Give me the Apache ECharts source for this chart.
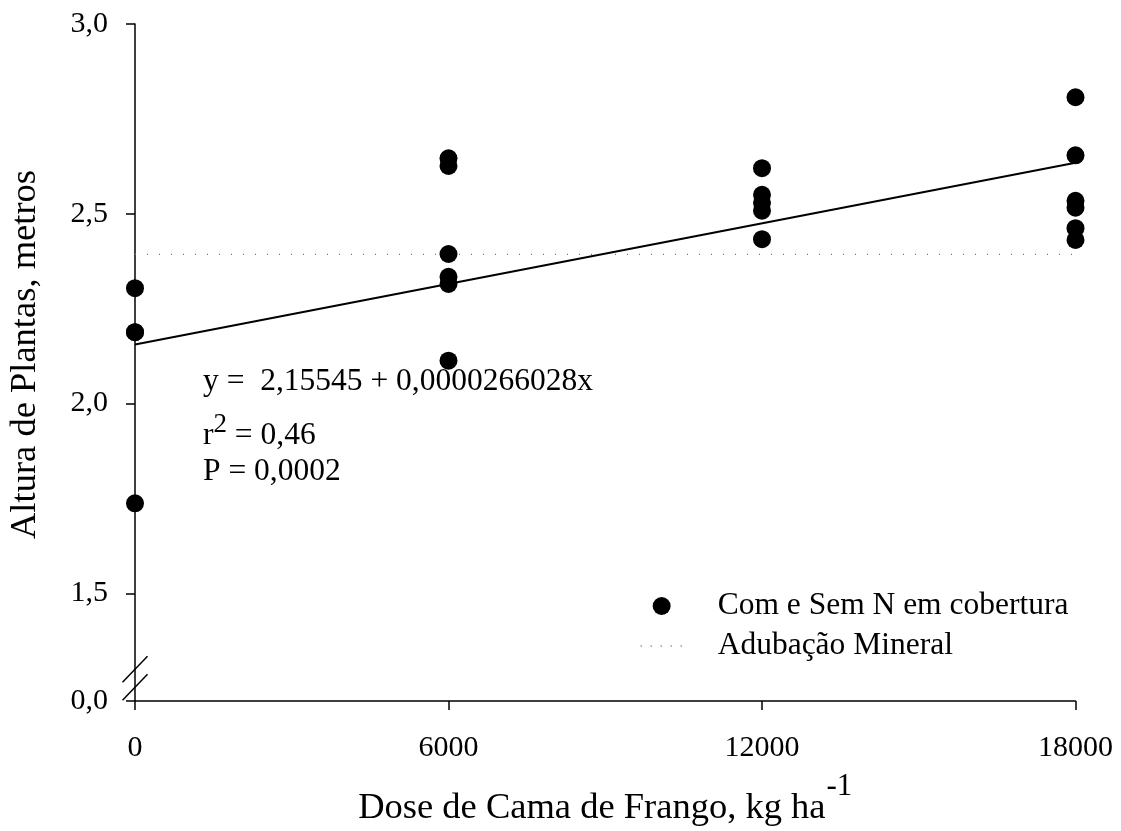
<!DOCTYPE html>
<html>
<head>
<meta charset="utf-8">
<script src="https://cdn.jsdelivr.net/npm/echarts@6/dist/echarts.min.js"></script>
<style>
html,body{margin:0;padding:0;background:#fff;}
#chart{width:1121px;height:831px;}
</style>
</head>
<body>
<div id="chart"></div>
<script>
// ---- data ----
const doses = [0, 6000, 12000, 18000];
const heightsDose0 = [2.304, 2.188, 2.188, 1.737];
const heightsDose6000 = [2.646, 2.626, 2.394, 2.334, 2.315, 2.113];
const heightsDose12000 = [2.620, 2.550, 2.529, 2.508, 2.433];
const heightsDose18000 = [2.807, 2.654, 2.534, 2.516, 2.462, 2.431];
const fitX = [0, 18000];
const fitY = [2.15545, 2.63430];
const mineralX = [0, 18000];
const mineralY = [2.393, 2.393];
const yAxisMin = 1.2162;          // position of the "0,0" label below the axis break
const yTickValues = [1.2162, 1.5, 2.0, 2.5, 3.0];
const yTickLabels = ['0,0', '1,5', '2,0', '2,5', '3,0'];
const breakValue = 1.30;
const seriesNames = ['Com e Sem N em cobertura', 'Adubação Mineral'];

const FONT = '"Liberation Serif", "DejaVu Serif", serif';

const groups = [heightsDose0, heightsDose6000, heightsDose12000, heightsDose18000];
const scatterData = [];
groups.forEach((g, i) => g.forEach(v => scatterData.push([doses[i], v])));
const fitData = fitX.map((x, i) => [x, fitY[i]]);
const mineralData = mineralX.map((x, i) => [x, mineralY[i]]);

const chart = echarts.init(document.getElementById('chart'), null, {renderer: 'canvas'});

const option = {
  backgroundColor: '#fff',
  animation: false,
  grid: {left: 135, right: 45.5, top: 24, bottom: 130, containLabel: false, outerBoundsMode: 'none'},
  xAxis: {
    type: 'value', min: 0, max: 18000, interval: 6000,
    splitLine: {show: false},
    axisLine: {lineStyle: {color: '#000', width: 1.5}},
    axisTick: {show: true, length: 9, lineStyle: {color: '#000', width: 1.5}},
    axisLabel: {color: '#000', fontFamily: FONT, fontSize: 30, margin: 32,
      formatter: v => String(v)},
    name: '{a|Dose de Cama de Frango, kg ha}{b|-1}',
    nameLocation: 'middle', nameGap: 70,
    nameTextStyle: {
      rich: {
        a: {fontFamily: FONT, fontSize: 36.5, color: '#000', verticalAlign: 'bottom'},
        b: {fontFamily: FONT, fontSize: 31, color: '#000', verticalAlign: 'bottom', padding: [0, 0, 25, 1]}
      }
    }
  },
  yAxis: {
    type: 'value', min: yAxisMin, max: 3.0,
    splitLine: {show: false},
    axisLine: {lineStyle: {color: '#000', width: 1.5}},
    axisTick: {show: true, length: 9, customValues: yTickValues, lineStyle: {color: '#000', width: 1.5}},
    axisLabel: {color: '#000', fontFamily: FONT, fontSize: 30, margin: 27,
      customValues: yTickValues,
      formatter: v => {
        const idx = yTickValues.findIndex(t => Math.abs(t - v) < 1e-6);
        return idx >= 0 ? yTickLabels[idx] : '';
      }},
    name: 'Altura de Plantas, metros',
    nameLocation: 'middle', nameGap: 91,
    nameTextStyle: {fontFamily: FONT, fontSize: 36.5, color: '#000', padding: [0, 0, 0, 16]}
  },
  legend: {
    orient: 'vertical', left: 640, top: 590, padding: 0,
    itemWidth: 42, itemHeight: 18, itemGap: 8,
    textStyle: {fontFamily: FONT, fontSize: 31.5, color: '#000', padding: [0, 0, 0, 30]},
    data: [
      {name: seriesNames[0], icon: 'circle', itemStyle: {color: '#000', opacity: 1}},
      {name: seriesNames[1], itemStyle: {color: 'rgba(0,0,0,0)', borderWidth: 0, opacity: 0},
       lineStyle: {color: '#666', width: 1.3, type: [1, 9]}}
    ]
  },
  series: [
    {
      name: 'fit', type: 'line', data: fitData, symbol: 'none',
      lineStyle: {color: '#000', width: 2}, silent: true, z: 2
    },
    {
      name: seriesNames[1], type: 'line', data: mineralData, symbol: 'none',
      itemStyle: {color: '#777'},
      lineStyle: {color: '#777', width: 1.2, type: [1, 11]}, z: 1
    },
    {
      name: seriesNames[0], type: 'scatter', data: scatterData,
      symbol: 'circle', symbolSize: 18, clip: false,
      itemStyle: {color: '#000', opacity: 1}, z: 3
    }
  ]
};
chart.setOption(option);

// decorations: axis-break marks and the regression annotation
const bp = chart.convertToPixel({gridIndex: 0}, [0, breakValue]);
const bx = bp[0], by = bp[1];
const eqX = 203;
chart.setOption({
  graphic: [
    {type: 'line', shape: {x1: bx - 12.5, y1: by + 13, x2: bx + 12.5, y2: by - 13},
     style: {stroke: '#000', lineWidth: 1.5}},
    {type: 'line', shape: {x1: bx - 12.5, y1: by + 31, x2: bx + 12.5, y2: by + 5},
     style: {stroke: '#000', lineWidth: 1.5}},
    {type: 'text', left: eqX, top: 366,
     style: {text: 'y =  2,15545 + 0,0000266028x', font: '31.5px ' + FONT, fill: '#000'}},
    {type: 'text', left: eqX, top: 411,
     style: {text: '{r|r}{s|2}{r| = 0,46}',
       rich: {
         r: {fontFamily: FONT, fontSize: 31.5, fill: '#000', verticalAlign: 'bottom'},
         s: {fontFamily: FONT, fontSize: 27, fill: '#000', verticalAlign: 'bottom', padding: [0, 0, 14, 0]}
       }}},
    {type: 'text', left: eqX, top: 456,
     style: {text: 'P = 0,0002', font: '31.5px ' + FONT, fill: '#000'}}
  ]
});
</script>
</body>
</html>
